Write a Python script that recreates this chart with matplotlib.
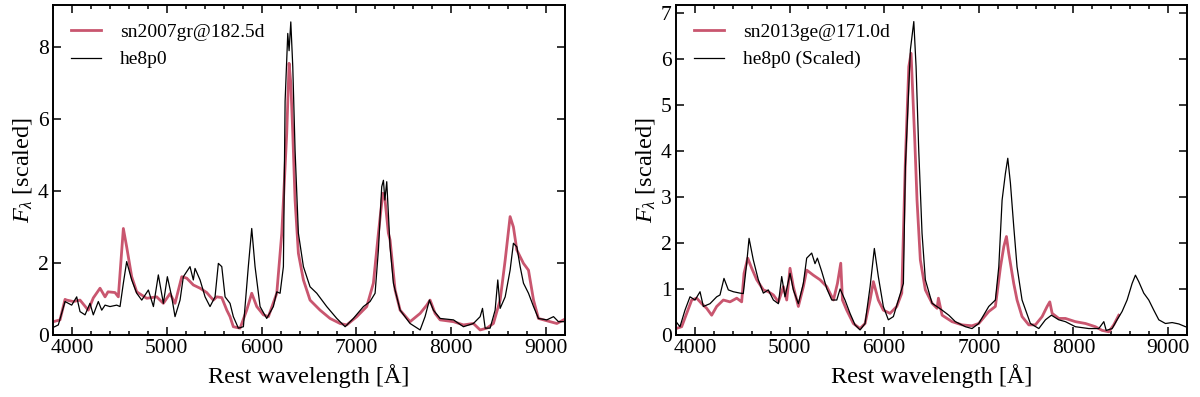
import matplotlib
matplotlib.use("Agg")
import matplotlib.pyplot as plt
from matplotlib.ticker import MultipleLocator

# ---------------- data ----------------
# Left panel: sn2007gr@182.5d (observed) vs he8p0 (model)
sn07_wave = [3803, 3874, 3927, 3944, 4014, 4085, 4172, 4225, 4296, 4349, 4380, 4454, 4489,
             4542, 4577, 4630, 4683, 4788, 4894, 4964, 5034, 5087, 5158, 5210, 5280, 5351,
             5421, 5491, 5527, 5580, 5633, 5667, 5702, 5773, 5843, 5896, 5949, 6019, 6072,
             6160, 6213, 6248, 6265, 6290, 6308, 6329, 6353, 6388, 6441, 6511, 6617, 6722,
             6828, 6898, 7004, 7109, 7179, 7232, 7278, 7300, 7337, 7355, 7408, 7461, 7566,
             7672, 7742, 7777, 7830, 7883, 8024, 8129, 8234, 8305, 8375, 8445, 8516, 8569,
             8621, 8656, 8692, 8762, 8815, 8868, 8920, 9043, 9114, 9184]
sn07_flux = [0.37, 0.42, 0.99, 0.97, 0.93, 0.97, 0.69, 1.03, 1.30, 1.06, 1.20, 1.18, 1.06,
             2.96, 2.45, 1.62, 1.20, 1.02, 1.06, 0.88, 1.15, 0.88, 1.62, 1.58, 1.39, 1.30,
             1.18, 0.97, 1.06, 1.04, 0.69, 0.51, 0.23, 0.19, 0.69, 1.16, 0.79, 0.56, 0.51,
             1.16, 2.83, 4.68, 5.60, 7.55, 7.00, 5.60, 3.75, 2.27, 1.53, 0.97, 0.69, 0.46,
             0.32, 0.28, 0.51, 0.79, 1.44, 2.83, 3.94, 3.80, 2.83, 2.64, 1.25, 0.69, 0.37,
             0.60, 0.83, 0.97, 0.60, 0.42, 0.37, 0.28, 0.32, 0.14, 0.19, 0.32, 0.97, 2.08,
             3.29, 3.00, 2.36, 1.99, 1.80, 0.97, 0.46, 0.37, 0.32, 0.42]

he8_left_wave = [3786, 3856, 3927, 3997, 4050, 4085, 4138, 4190, 4225, 4278, 4314, 4349,
                 4401, 4472, 4507, 4542, 4577, 4630, 4683, 4736, 4806, 4859, 4911, 4964,
                 5006, 5052, 5087, 5140, 5175, 5245, 5280, 5298, 5351, 5404, 5456, 5509,
                 5544, 5580, 5615, 5667, 5702, 5755, 5808, 5860, 5896, 5931, 5984, 6054,
                 6124, 6160, 6195, 6230, 6248, 6276, 6290, 6308, 6329, 6353, 6388, 6441,
                 6511, 6582, 6687, 6793, 6881, 6968, 7074, 7144, 7197, 7232, 7267, 7285,
                 7300, 7320, 7355, 7390, 7461, 7566, 7672, 7724, 7770, 7812, 7883, 8024,
                 8129, 8234, 8305, 8330, 8358, 8410, 8463, 8491, 8516, 8569, 8621, 8656,
                 8692, 8727, 8762, 8815, 8868, 8920, 9008, 9079, 9131, 9184]
he8_left_flux = [0.19, 0.28, 0.93, 0.83, 1.06, 0.65, 0.56, 0.88, 0.56, 0.93, 0.69, 0.83,
                 0.79, 0.83, 0.79, 1.44, 2.04, 1.53, 1.16, 0.97, 1.25, 0.79, 1.67, 0.88,
                 1.62, 1.06, 0.51, 0.97, 1.62, 1.90, 1.53, 1.85, 1.53, 1.06, 0.79, 1.06,
                 1.99, 1.90, 1.06, 0.88, 0.51, 0.19, 0.23, 1.90, 2.96, 1.90, 0.79, 0.46,
                 0.79, 1.20, 1.16, 1.90, 6.50, 8.38, 7.90, 8.70, 7.45, 5.14, 2.83, 1.90,
                 1.34, 1.16, 0.79, 0.46, 0.23, 0.46, 0.79, 0.93, 1.16, 2.36, 4.12, 4.30,
                 3.75, 4.26, 2.45, 1.44, 0.69, 0.32, 0.14, 0.51, 0.97, 0.69, 0.46, 0.42,
                 0.23, 0.32, 0.51, 0.74, 0.19, 0.19, 0.69, 1.53, 0.74, 1.06, 1.80, 2.55,
                 2.45, 1.90, 1.44, 1.16, 0.79, 0.46, 0.42, 0.51, 0.37, 0.37]

# Right panel: sn2013ge@171.0d (observed) vs he8p0 (scaled model)
sn13_wave = [3800, 3860, 3913, 3966, 4019, 4072, 4124, 4177, 4230, 4300, 4371, 4442, 4494,
             4519, 4558, 4600, 4653, 4723, 4776, 4829, 4882, 4935, 4970, 5005, 5040, 5093,
             5146, 5181, 5251, 5322, 5393, 5464, 5506, 5541, 5559, 5604, 5674, 5745, 5798,
             5851, 5886, 5938, 5991, 6062, 6133, 6186, 6224, 6260, 6284, 6302, 6323, 6347,
             6382, 6435, 6506, 6559, 6573, 6612, 6717, 6823, 6928, 6999, 7105, 7175, 7229,
             7264, 7292, 7316, 7369, 7404, 7457, 7528, 7598, 7669, 7722, 7750, 7775, 7845,
             7915, 8021, 8127, 8232, 8303, 8374, 8426, 8479]
sn13_flux = [0.14, 0.18, 0.47, 0.76, 0.80, 0.68, 0.58, 0.43, 0.62, 0.76, 0.72, 0.80, 0.72,
             1.34, 1.67, 1.45, 1.20, 0.98, 0.94, 0.87, 0.72, 1.05, 0.76, 1.45, 1.05, 0.62,
             1.05, 1.41, 1.30, 1.20, 1.05, 0.76, 1.12, 1.56, 0.76, 0.54, 0.25, 0.14, 0.25,
             0.76, 1.16, 0.76, 0.54, 0.47, 0.62, 0.91, 3.80, 5.83, 6.12, 5.25, 4.24, 2.93,
             1.63, 0.98, 0.69, 0.58, 0.80, 0.43, 0.29, 0.22, 0.20, 0.25, 0.51, 0.62, 1.48,
             1.92, 2.14, 1.78, 1.12, 0.76, 0.40, 0.22, 0.22, 0.40, 0.62, 0.72, 0.47, 0.36,
             0.36, 0.29, 0.25, 0.18, 0.10, 0.07, 0.22, 0.43]

he8_right_wave = [3800, 3842, 3895, 3948, 4001, 4054, 4089, 4159, 4230, 4265, 4307, 4353,
                  4406, 4476, 4511, 4547, 4572, 4617, 4670, 4723, 4775, 4829, 4882, 4917,
                  4952, 5005, 5040, 5093, 5146, 5181, 5234, 5269, 5294, 5340, 5393, 5446,
                  5499, 5534, 5586, 5639, 5692, 5745, 5798, 5851, 5896, 5938, 5991, 6044,
                  6097, 6150, 6203, 6224, 6277, 6313, 6337, 6365, 6400, 6435, 6506, 6612,
                  6683, 6752, 6858, 6928, 6999, 7105, 7175, 7211, 7246, 7281, 7306, 7334,
                  7369, 7404, 7457, 7545, 7634, 7704, 7767, 7845, 7915, 8021, 8162, 8268,
                  8321, 8346, 8409, 8461, 8514, 8567, 8620, 8655, 8690, 8743, 8796, 8849,
                  8902, 8972, 9043, 9114, 9184]
he8_right_flux = [0.29, 0.18, 0.54, 0.83, 0.76, 0.94, 0.62, 0.68, 0.83, 0.87, 1.23, 0.98,
                  0.94, 0.91, 0.90, 1.56, 2.10, 1.63, 1.20, 0.91, 0.98, 0.76, 0.68, 1.27,
                  0.83, 1.34, 0.98, 0.68, 1.12, 1.67, 1.78, 1.55, 1.67, 1.38, 1.01, 0.76,
                  0.76, 1.00, 0.76, 0.47, 0.22, 0.11, 0.25, 1.05, 1.88, 1.27, 0.62, 0.33,
                  0.40, 0.76, 1.12, 3.66, 6.20, 6.81, 5.83, 4.02, 2.21, 1.20, 0.69, 0.54,
                  0.43, 0.29, 0.18, 0.14, 0.25, 0.62, 0.76, 1.48, 2.93, 3.51, 3.84, 3.30,
                  2.36, 1.48, 0.76, 0.25, 0.14, 0.33, 0.43, 0.33, 0.29, 0.18, 0.14, 0.14,
                  0.29, 0.10, 0.14, 0.33, 0.51, 0.76, 1.12, 1.30, 1.16, 0.91, 0.76, 0.54,
                  0.33, 0.25, 0.27, 0.24, 0.18]

labels_left = ["sn2007gr@182.5d", "he8p0"]
labels_right = ["sn2013ge@171.0d", "he8p0 (Scaled)"]
xticks = [4000, 5000, 6000, 7000, 8000, 9000]

# ---------------- style ----------------
plt.rcParams["font.family"] = ["Liberation Serif", "DejaVu Serif"]
plt.rcParams["mathtext.fontset"] = "custom"
plt.rcParams["mathtext.rm"] = "Liberation Serif"
plt.rcParams["mathtext.it"] = "Liberation Serif:italic"

RED = "#c9566f"

fig = plt.figure(figsize=(12, 3.97), dpi=100)
ax1 = fig.add_axes([53 / 1200, 62 / 397, 512 / 1200, 330 / 397])
ax2 = fig.add_axes([676 / 1200, 62 / 397, 511 / 1200, 330 / 397])

def style(ax, ymax, ystep):
    ax.set_xlim(3800, 9200)
    ax.set_ylim(0, ymax)
    ax.set_xticks(xticks)
    ax.xaxis.set_minor_locator(MultipleLocator(200))
    ax.yaxis.set_major_locator(MultipleLocator(ystep))
    ax.tick_params(which="both", direction="in", top=True, right=True,
                   labelsize=15.5, width=1.1)
    ax.tick_params(which="major", length=6, pad=3)
    ax.tick_params(which="minor", length=3)
    for s in ax.spines.values():
        s.set_linewidth(1.4)
    ax.set_xlabel("Rest wavelength [Å]", fontsize=17.5, labelpad=4)
    ax.set_ylabel(r"$F_\lambda$ [scaled]", fontsize=17.5, labelpad=3)

ax1.plot(sn07_wave, sn07_flux, color=RED, lw=2.0, label=labels_left[0])
ax1.plot(he8_left_wave, he8_left_flux, color="black", lw=0.9, label=labels_left[1])
style(ax1, 9.17, 2)
ax1.legend(loc="upper left", frameon=False, fontsize=14, handlelength=1.5,
           handletextpad=1.0, borderaxespad=0.55, labelspacing=0.5)

ax2.plot(sn13_wave, sn13_flux, color=RED, lw=2.0, label=labels_right[0])
ax2.plot(he8_right_wave, he8_right_flux, color="black", lw=0.9, label=labels_right[1])
style(ax2, 7.17, 1)
ax2.legend(loc="upper left", frameon=False, fontsize=14, handlelength=1.5,
           handletextpad=1.0, borderaxespad=0.55, labelspacing=0.5)

fig.savefig("out.png", dpi=100)
